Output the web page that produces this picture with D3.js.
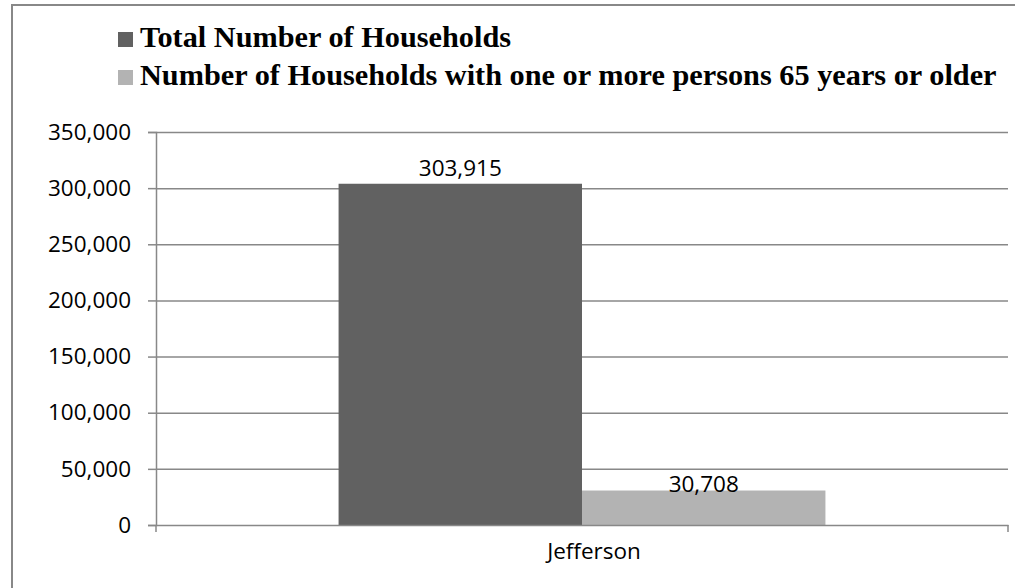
<!DOCTYPE html>
<html>
<head>
<meta charset="utf-8">
<script src="https://cdn.jsdelivr.net/npm/d3@7"></script>
<style>
  html, body { margin: 0; background: #fff; overflow: hidden; }
  .canvas svg { display: block; overflow: hidden; }
</style>
</head>
<body>
<div class="canvas"></div>
<script>
// chart data
const categories = ["Jefferson"];
const seriesNames = [
  "Total Number of Households",
  "Number of Households with one or more persons 65 years or older"
];
const totalHouseholds = [303915];
const households65 = [30708];
const yTicks = [0, 50000, 100000, 150000, 200000, 250000, 300000, 350000];

const seriesValues = [totalHouseholds, households65];
const colors = ["#616161", "#b3b3b3"];

const width = 1015;
const height = 588;
const margin = { top: 132, right: 7, bottom: 63, left: 156 };
const graphWidth = width - margin.left - margin.right;
const graphHeight = height - margin.top - margin.bottom;

const svg = d3.select(".canvas")
  .append("svg")
  .attr("width", width)
  .attr("height", height);

// outer chart border: only the left and top edges show in the picture
svg.append("path")
  .attr("d", `M12,${height}V5H${width}`)
  .attr("fill", "none")
  .attr("stroke", "#888")
  .attr("stroke-width", 2);

const graph = svg.append("g")
  .attr("transform", `translate(${margin.left}, ${margin.top})`);

// scales
const x = d3.scaleBand().domain(categories).range([0, graphWidth]);
const y = d3.scaleLinear().domain([0, 350000]).range([graphHeight, 0]);

const gap = 1.5;
const barW = x.bandwidth() / (seriesNames.length + gap);
const x1 = d3.scaleBand()
  .domain(d3.range(seriesNames.length))
  .range([barW * gap / 2, barW * gap / 2 + barW * seriesNames.length]);

// gridlines
const grid = graph.append("g")
  .call(d3.axisLeft(y).tickValues(yTicks.slice(1)).tickSize(-graphWidth).tickFormat(""));
grid.select(".domain").remove();
grid.selectAll("line").attr("stroke", "#888").attr("stroke-width", 1.5);

// y axis
const yAxisGroup = graph.append("g")
  .call(d3.axisLeft(y).tickValues(yTicks).tickSize(8).tickPadding(17).tickFormat(d3.format(",")));
yAxisGroup.select(".domain").attr("stroke", "#888").attr("stroke-width", 1.5);
yAxisGroup.selectAll("line").attr("stroke", "#888").attr("stroke-width", 1.5);
yAxisGroup.selectAll("text")
  .attr("font-family", "'Open Sans', sans-serif")
  .attr("font-size", 22.5)
  .attr("fill", "#000");

// bars
const groups = graph.selectAll("g.cat")
  .data(categories)
  .enter()
  .append("g")
  .attr("class", "cat")
  .attr("transform", d => `translate(${x(d)},0)`);

groups.each(function(cat, ci) {
  const g = d3.select(this);
  seriesValues.forEach((vals, si) => {
    g.append("rect")
      .attr("x", x1(si))
      .attr("y", y(vals[ci]))
      .attr("width", x1.bandwidth())
      .attr("height", graphHeight - y(vals[ci]))
      .attr("fill", colors[si]);
  });
});

// x axis
const xAxisGroup = graph.append("g")
  .attr("transform", `translate(0,${graphHeight})`)
  .call(d3.axisBottom(x).tickSize(0).tickPadding(18));
xAxisGroup.select(".domain").attr("stroke", "#888").attr("stroke-width", 1.5);
xAxisGroup.selectAll("text")
  .attr("font-family", "'Open Sans', sans-serif")
  .attr("font-size", 22.5)
  .attr("fill", "#000")
  .attr("dx", 12);
// category boundary ticks
xAxisGroup.selectAll("line.edge")
  .data(x.range())
  .enter()
  .append("line")
  .attr("class", "edge")
  .attr("x1", d => d).attr("x2", d => d)
  .attr("y1", 0).attr("y2", 7)
  .attr("stroke", "#888")
  .attr("stroke-width", 1.5);

// data labels
const labelDy = [-8, 1];
groups.each(function(cat, ci) {
  const g = d3.select(this);
  seriesValues.forEach((vals, si) => {
    g.append("text")
      .attr("x", x1(si) + x1.bandwidth() / 2)
      .attr("y", y(vals[ci]) + labelDy[si])
      .attr("text-anchor", "middle")
      .attr("font-family", "'Open Sans', sans-serif")
      .attr("font-size", 22.5)
      .attr("fill", "#000")
      .text(d3.format(",")(vals[ci]));
  });
});

// legend
const legend = svg.append("g").attr("transform", "translate(118,0)");
const legendY = [47, 85];
const items = legend.selectAll("g")
  .data(seriesNames)
  .enter()
  .append("g")
  .attr("transform", (d, i) => `translate(0,${legendY[i]})`);

items.append("rect")
  .attr("x", 0)
  .attr("y", -15)
  .attr("width", 15)
  .attr("height", 15)
  .attr("fill", (d, i) => colors[i]);

const legendText = items.append("text")
  .attr("x", 22)
  .attr("y", 0)
  .attr("font-family", "'Liberation Serif', serif")
  .attr("font-weight", "bold")
  .attr("font-size", 24)
  .attr("fill", "#000")
  .text(d => d);

// fit the long legend entry to the width it has in the original
const longest = legendText.nodes()[1].getComputedTextLength();
legendText.attr("font-size", 24 * 857 / longest);
</script>
</body>
</html>
